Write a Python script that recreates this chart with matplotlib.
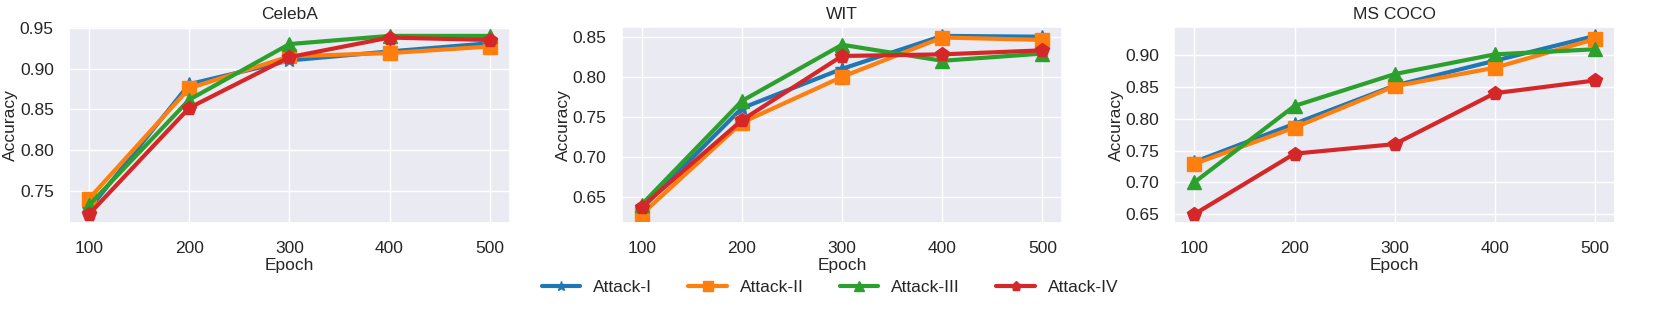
import numpy as np
import matplotlib.pyplot as plt
import seaborn as sns
from matplotlib.ticker import MultipleLocator, FormatStrFormatter

sns.set_theme(style="darkgrid")
plt.rcParams['font.family'] = ['Liberation Sans', 'DejaVu Sans']

epochs = [100, 200, 300, 400, 500]
methods = ['Attack-I', 'Attack-II', 'Attack-III', 'Attack-IV']
datasets = ['CelebA', 'WIT', 'MS COCO']

# accuracy per dataset, one row per attack
celeba = [
    [0.728, 0.881, 0.910, 0.921, 0.931],
    [0.741, 0.876, 0.915, 0.919, 0.927],
    [0.733, 0.862, 0.930, 0.940, 0.940],
    [0.722, 0.852, 0.914, 0.938, 0.935],
]
wit = [
    [0.636, 0.761, 0.810, 0.851, 0.850],
    [0.629, 0.743, 0.800, 0.849, 0.846],
    [0.641, 0.770, 0.840, 0.820, 0.829],
    [0.638, 0.746, 0.826, 0.828, 0.833],
]
mscoco = [
    [0.732, 0.792, 0.852, 0.891, 0.930],
    [0.729, 0.786, 0.851, 0.880, 0.925],
    [0.700, 0.820, 0.870, 0.901, 0.909],
    [0.650, 0.745, 0.760, 0.840, 0.860],
]

colors = ['#1f77b4', '#ff7f0e', '#2ca02c', '#d62728']
markers = ['*', 's', '^', 'p']
fs = 12.5

fig, axes = plt.subplots(1, 3, figsize=(16.6, 3.12), dpi=100)
fig.subplots_adjust(left=0.0416, right=0.9729, bottom=0.285, top=0.9135, wspace=0.254)

for ax, name, data in zip(axes, datasets, [celeba, wit, mscoco]):
    for i, m in enumerate(methods):
        ax.plot(epochs, data[i], color=colors[i], marker=markers[i],
                linewidth=3, markersize=10, label=m)
    ax.set_title(name, fontsize=fs, pad=6)
    ax.set_xlabel('Epoch', fontsize=fs, labelpad=1)
    ax.set_ylabel('Accuracy', fontsize=fs, labelpad=1)
    ax.set_xticks(epochs)
    ax.yaxis.set_major_locator(MultipleLocator(0.05))
    ax.yaxis.set_major_formatter(FormatStrFormatter('%.2f'))
    ax.tick_params(axis='x', labelsize=fs, pad=7)
    ax.tick_params(axis='y', labelsize=fs, pad=5)

handles, labels = axes[0].get_legend_handles_labels()
fig.legend(handles, labels, loc='center', bbox_to_anchor=(0.5, 0.08), ncol=4,
           frameon=False, fontsize=fs, handlelength=2.2, handletextpad=0.75,
           columnspacing=2.1, markerscale=0.65)

plt.savefig('out.png', dpi=100)
